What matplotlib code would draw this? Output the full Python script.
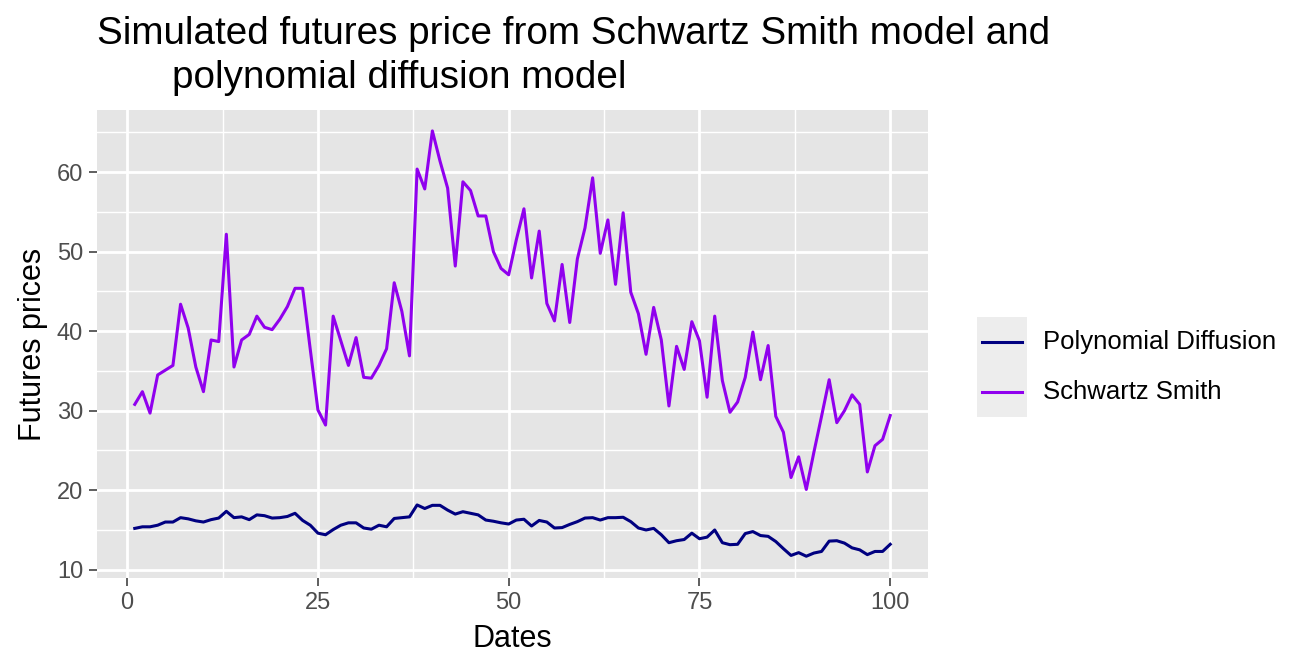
import matplotlib
matplotlib.use("Agg")
import matplotlib.pyplot as plt
from matplotlib.lines import Line2D
from matplotlib.patches import Rectangle
import numpy as np

plt.rcParams['font.family'] = ['Liberation Sans', 'DejaVu Sans']

dates = list(range(1, 101))

schwartz_smith = [
    30.8, 32.4, 29.7, 34.5, 35.1, 35.7, 43.4, 40.4, 35.5, 32.4,
    38.9, 38.7, 52.2, 35.5, 38.9, 39.6, 41.9, 40.5, 40.2, 41.5,
    43.1, 45.4, 45.4, 37.7, 30.1, 28.2, 41.9, 38.8, 35.7, 39.2,
    34.2, 34.1, 35.7, 37.8, 46.1, 42.5, 36.9, 60.4, 57.9, 65.2,
    61.4, 58.0, 48.2, 58.8, 57.7, 54.5, 54.5, 50.0, 47.9, 47.1,
    51.5, 55.4, 46.7, 52.6, 43.5, 41.3, 48.4, 41.1, 49.1, 53.0,
    59.3, 49.8, 54.0, 45.9, 54.9, 44.9, 42.2, 37.1, 43.0, 38.9,
    30.6, 38.1, 35.2, 41.2, 38.8, 31.7, 41.9, 33.8, 29.8, 31.1,
    34.2, 39.9, 33.9, 38.2, 29.3, 27.3, 21.6, 24.2, 20.1, 24.8,
    29.3, 33.9, 28.5, 30.0, 32.0, 30.8, 22.3, 25.6, 26.4, 29.4,
]

polynomial_diffusion = [
    15.2, 15.4, 15.4, 15.6, 16.0, 16.0, 16.55, 16.4, 16.15, 16.0,
    16.3, 16.5, 17.35, 16.55, 16.65, 16.3, 16.9, 16.8, 16.5, 16.55,
    16.7, 17.1, 16.2, 15.6, 14.6, 14.4, 15.05, 15.6, 15.9, 15.9,
    15.25, 15.1, 15.6, 15.4, 16.45, 16.55, 16.65, 18.15, 17.7, 18.1,
    18.1, 17.5, 17.0, 17.3, 17.1, 16.9, 16.25, 16.1, 15.9, 15.75,
    16.25, 16.35, 15.5, 16.2, 16.0, 15.25, 15.3, 15.7, 16.05, 16.5,
    16.55, 16.25, 16.55, 16.55, 16.6, 16.05, 15.25, 15.0, 15.2, 14.4,
    13.4, 13.65, 13.8, 14.6, 13.9, 14.1, 15.0, 13.4, 13.15, 13.2,
    14.55, 14.8, 14.3, 14.2, 13.55, 12.65, 11.8, 12.15, 11.7, 12.1,
    12.3, 13.6, 13.65, 13.35, 12.75, 12.5, 11.9, 12.3, 12.3, 13.2,
]

series_names = ["Polynomial Diffusion", "Schwartz Smith"]
series_colors = ["#000080", "#9000EE"]
x_ticks = [0, 25, 50, 75, 100]
y_ticks = [10, 20, 30, 40, 50, 60]

W, H = 1309, 671
fig = plt.figure(figsize=(W / 100, H / 100), dpi=100)
fig.patch.set_facecolor("white")

L, R, T, B = 97, 928, 110, 578
ax = fig.add_axes([L / W, 1 - B / H, (R - L) / W, (B - T) / H])
ax.set_facecolor("#E5E5E5")
for s in ax.spines.values():
    s.set_visible(False)

ax.set_xlim(-3.95, 104.95)
ax.set_ylim(8.96, 67.83)
ax.set_xticks(x_ticks)
ax.set_yticks(y_ticks)
ax.set_xticks([12.5, 37.5, 62.5, 87.5], minor=True)
ax.set_yticks([15, 25, 35, 45, 55, 65], minor=True)
ax.grid(which="major", color="white", linewidth=2.0)
ax.grid(which="minor", color="white", linewidth=1.0)
ax.set_axisbelow(True)
ax.tick_params(which="minor", length=0)
ax.tick_params(which="major", length=6, width=1.1, color="#333333",
               labelsize=17, labelcolor="#4D4D4D", pad=4)

ax.plot(dates, polynomial_diffusion, color=series_colors[0], lw=2.2, solid_joinstyle="round")
ax.plot(dates, schwartz_smith, color=series_colors[1], lw=2.2, solid_joinstyle="round")

ax.set_xlabel("Dates", fontsize=22, color="black", labelpad=7)
ax.set_ylabel("Futures prices", fontsize=22, color="black", labelpad=6)

# Title (two lines, second indented)
fig.text(97 / W, 1 - 44 / H, "Simulated futures price from Schwartz Smith model and",
         fontsize=27.8, ha="left", va="baseline", color="black")
fig.text(172 / W, 1 - 88 / H, "polynomial diffusion model",
         fontsize=27.8, ha="left", va="baseline", color="black")

# Legend
def fx(px):
    return px / W

def fy(py):
    return 1 - py / H

fig.patches.append(Rectangle((fx(977), fy(417)), fx(1027) - fx(977), fy(317) - fy(417),
                             transform=fig.transFigure, facecolor="#EDEDED",
                             edgecolor="none", zorder=1))
for i, (name, col) in enumerate(zip(series_names, series_colors)):
    yc = 342 + 50 * i
    fig.lines.append(Line2D([fx(982), fx(1022)], [fy(yc), fy(yc)],
                            transform=fig.transFigure, color=col, lw=2.2, zorder=2))
    fig.text(fx(1043), fy(yc), name, fontsize=18.5, ha="left", va="center", color="black")

fig.savefig("out.png", dpi=100)
